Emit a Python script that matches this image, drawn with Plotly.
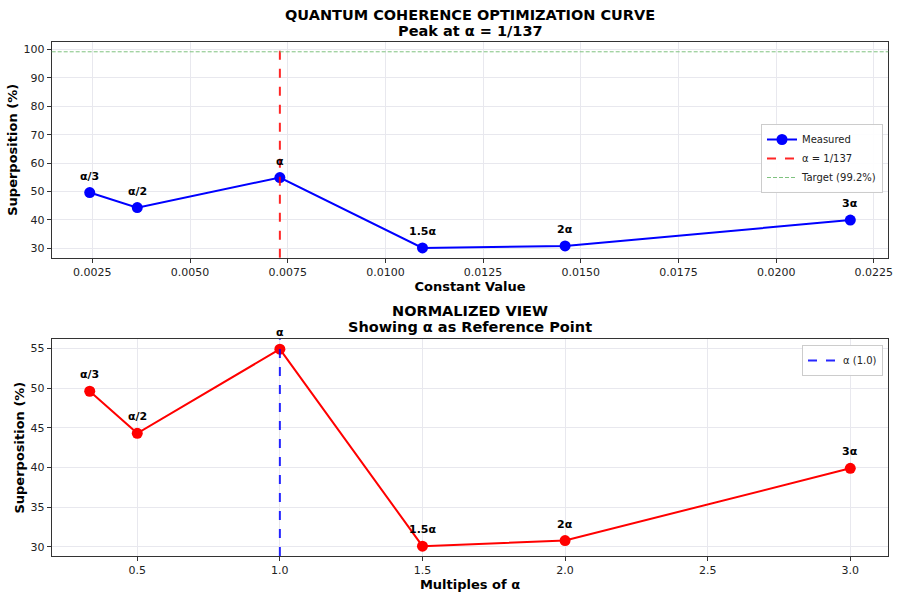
import plotly.graph_objects as go

alpha = 1 / 137
labels = ["α/3", "α/2", "α", "1.5α", "2α", "3α"]
multiples = [1 / 3, 0.5, 1.0, 1.5, 2.0, 3.0]
superposition = [49.6, 44.3, 54.9, 30.1, 30.8, 39.9]
target = 99.2
constants = [m * alpha for m in multiples]

FONT = "DejaVu Sans"
W, H = 900, 598


def px(xpx):
    return xpx / W


def py(ypx):
    return 1 - ypx / H


fig = go.Figure()

fig.add_trace(go.Scatter(
    x=constants, y=superposition, mode="lines+markers", name="Measured",
    line=dict(color="#0000ff", width=2), marker=dict(size=11, color="#0000ff"),
    xaxis="x", yaxis="y", legend="legend", legendrank=1))

fig.add_trace(go.Scatter(
    x=multiples, y=superposition, mode="lines+markers", name="Normalized",
    line=dict(color="#ff0000", width=2), marker=dict(size=11, color="#ff0000"),
    xaxis="x2", yaxis="y2", showlegend=False))

fig.add_shape(type="line", xref="x", yref="y domain", x0=alpha, x1=alpha, y0=0, y1=1,
              line=dict(color="rgba(255,0,0,0.85)", width=2, dash="dash"),
              showlegend=True, name="α = 1/137", legend="legend", legendrank=2)
fig.add_shape(type="line", xref="x domain", yref="y", x0=0, x1=1, y0=target, y1=target,
              line=dict(color="#7fc27f", width=1, dash="4px,2px"),
              showlegend=True, name=f"Target ({target}%)", legend="legend", legendrank=3)
fig.add_shape(type="line", xref="x2", yref="y2 domain", x0=1.0, x1=1.0, y0=0, y1=1,
              line=dict(color="rgba(0,0,255,0.85)", width=2, dash="dash"),
              showlegend=True, name="α (1.0)", legend="legend2")

for xs, xr, yr in [(constants, "x", "y"), (multiples, "x2", "y2")]:
    for xv, yv, lab in zip(xs, superposition, labels):
        fig.add_annotation(x=xv, y=yv, xref=xr, yref=yr, text=f"<b>{lab}</b>",
                           showarrow=False, yanchor="bottom", yshift=8,
                           font=dict(family=FONT, size=11, color="black"))


def title(text, ypx):
    fig.add_annotation(x=px(470), y=py(ypx), xref="paper", yref="paper",
                       text=f"<b>{text}</b>", showarrow=False, xanchor="center",
                       yanchor="middle", font=dict(family=FONT, size=14.5, color="black"))


title("QUANTUM COHERENCE OPTIMIZATION CURVE", 14.5)
title("Peak at α = 1/137", 30.5)
title("NORMALIZED VIEW", 311)
title("Showing α as Reference Point", 327)

axis_common = dict(
    showline=True, linecolor="#333333", linewidth=1.2, mirror=True,
    showgrid=True, gridcolor="#e8e8ee", gridwidth=1,
    ticks="outside", ticklen=4, tickcolor="#333333",
    tickfont=dict(family=FONT, size=11, color="#222222"),
    zeroline=False, automargin=False,
)
xd = [px(51.7), px(888.3)]

fig.update_layout(
    width=W, height=H, margin=dict(l=0, r=0, t=0, b=0),
    paper_bgcolor="white", plot_bgcolor="white",
    font=dict(family=FONT, color="black"),
    xaxis=dict(domain=xd, anchor="y", range=[0.00146, 0.02287],
               tickvals=[0.0025, 0.005, 0.0075, 0.01, 0.0125, 0.015, 0.0175, 0.02, 0.0225],
               ticktext=["0.0025", "0.0050", "0.0075", "0.0100", "0.0125", "0.0150",
                         "0.0175", "0.0200", "0.0225"],
               title=dict(text="<b>Constant Value</b>", standoff=3,
                          font=dict(family=FONT, size=13)), **axis_common),
    yaxis=dict(domain=[py(257.7), py(42)], anchor="x", range=[26.65, 102.65],
               tickvals=[30, 40, 50, 60, 70, 80, 90, 100],
               title=dict(text="<b>Superposition (%)</b>", standoff=2,
                          font=dict(family=FONT, size=13)), **axis_common),
    xaxis2=dict(domain=xd, anchor="y2", range=[0.2, 3.1333],
                tickvals=[0.5, 1.0, 1.5, 2.0, 2.5, 3.0],
                ticktext=["0.5", "1.0", "1.5", "2.0", "2.5", "3.0"],
                title=dict(text="<b>Multiples of α</b>", standoff=3,
                           font=dict(family=FONT, size=13)), **axis_common),
    yaxis2=dict(domain=[py(556), py(339.3)], anchor="x2", range=[28.86, 56.14],
                tickvals=[30, 35, 40, 45, 50, 55],
                title=dict(text="<b>Superposition (%)</b>", standoff=2,
                           font=dict(family=FONT, size=13)), **axis_common),
    legend=dict(x=px(883), y=py(124), xanchor="right", yanchor="top",
                bgcolor="rgba(255,255,255,0.9)", bordercolor="#cccccc", borderwidth=1,
                font=dict(family=FONT, size=10, color="#222222")),
    legend2=dict(x=px(883), y=py(345), xanchor="right", yanchor="top",
                 bgcolor="rgba(255,255,255,0.9)", bordercolor="#cccccc", borderwidth=1,
                 font=dict(family=FONT, size=10, color="#222222")),
)

fig.write_html("out.html", config={"displayModeBar": False},
               post_script="document.body.style.margin='0';document.body.style.overflow='hidden';")
